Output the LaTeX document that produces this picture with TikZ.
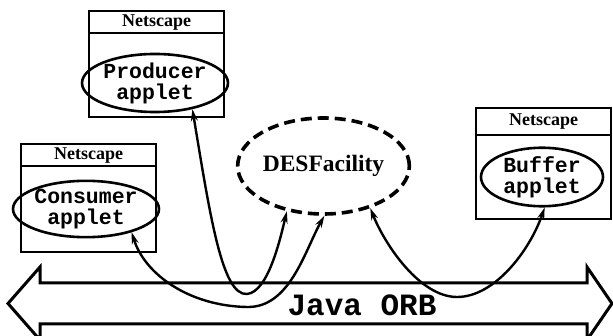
\documentclass[tikz,border=0pt]{standalone}
\usepackage{fontspec}
\setmainfont{Liberation Serif}
\setmonofont{Liberation Mono}
\usetikzlibrary{shapes.geometric,arrows.meta}
\begin{document}
\begin{tikzpicture}[x=1pt,y=-1pt,
  appbox/.style={draw, line width=2.4pt, minimum width=135pt, inner sep=0pt, anchor=north west},
  hdr/.style={draw, line width=2.4pt, minimum width=135pt, inner sep=0pt, anchor=north,
    font=\fontsize{18}{18}\selectfont\bfseries},
  appell/.style={ellipse, draw, line width=2.6pt, inner sep=0pt, align=center,
    font=\fontsize{21.5}{21}\selectfont\ttfamily\bfseries},
  desell/.style={ellipse, draw, line width=3.6pt, dash pattern=on 11pt off 6pt, inner sep=0pt,
    font=\fontsize{23.5}{23}\selectfont\bfseries},
  link/.style={line width=2.4pt, {Stealth[length=12pt,width=7pt]}-{Stealth[length=12pt,width=7pt]}},
  orb/.style={line width=3pt, line join=miter},
  orbtext/.style={font=\fontsize{31}{31}\selectfont\ttfamily\bfseries, inner sep=0pt}
]
\clip (0,0) rectangle (613,336);
\fill[white] (0,0) rectangle (613,336);

% Java ORB double arrow
\draw[orb] (40,283) -- (587,283) -- (587,267) -- (612,303.5) -- (587,340) -- (587,324)
  -- (40,324) -- (40,340) -- (8,303.5) -- (40,267) -- cycle;
\node[orbtext] (orb) at (362,305) {Java ORB};

% Producer
\node[appbox, minimum height=106pt] (pbox) at (88,10) {};
\node[hdr, minimum height=22pt] (phdr) at (pbox.north) {Netscape};
\node[appell, minimum width=120pt, minimum height=52pt] (pell) at (155,83) {Producer\\applet};

% Consumer
\node[appbox, minimum height=108pt] (cbox) at (20,143) {};
\node[hdr, minimum height=22pt] (chdr) at (cbox.north) {Netscape};
\node[appell, minimum width=128pt, minimum height=50pt] (cell) at (86,209) {Consumer\\applet};

% Buffer
\node[appbox, minimum height=111pt] (bbox) at (475,107) {};
\node[hdr, minimum height=27pt] (bhdr) at (bbox.north) {Netscape};
\node[appell, minimum width=122pt, minimum height=50pt] (bell) at (542,177) {Buffer\\applet};

% DESFacility
\node[desell, minimum width=157pt, minimum height=96pt] (des) at (323.5,166) {DESFacility};

% links
\draw[link] (pell.-35) .. controls (210,215) and (222,296) .. (247,294)
  .. controls (268,292) and (280,240) .. (des.231);
\draw[link] (cell.-27) .. controls (145,275) and (190,306) .. (247,307)
  .. controls (290,308) and (305,250) .. (des.271);
\draw[link] (des.318) .. controls (385,245) and (420,297) .. (457,297)
  .. controls (495,297) and (530,250) .. (bell.-85);
\end{tikzpicture}
\end{document}
